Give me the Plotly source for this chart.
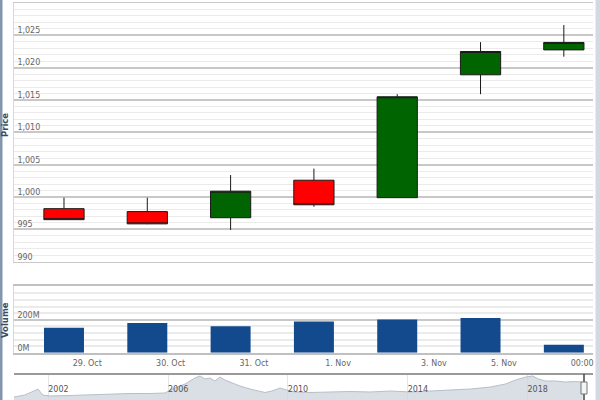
import plotly.graph_objects as go

# ---------------- data ----------------
sessions = ["S1", "S2", "S3", "S4", "S5", "S6", "S7"]
open_ = [998.2, 997.75, 996.8, 1002.6, 999.9, 1018.9, 1022.75]
high = [999.9, 999.9, 1003.4, 1004.4, 1015.9, 1023.95, 1026.6]
low = [996.5, 995.8, 994.9, 998.5, 999.85, 1015.9, 1021.7]
close = [996.5, 995.85, 1000.9, 998.8, 1015.5, 1022.5, 1023.9]
volume = [151, 180, 161, 190, 202, 210, 49]  # millions

x_tick_pos = [0.28, 1.28, 2.28, 3.29, 4.44, 5.28, 6.22]
x_tick_labels = ["29. Oct", "30. Oct", "31. Oct", "1. Nov", "3. Nov", "5. Nov", "00:00"]

nav_dates = ["2000-11-07", "2001-03-20", "2001-06-13", "2001-08-29", "2001-10-27",
             "2002-01-23", "2002-09-24", "2003-09-24", "2004-01-23", "2004-09-24",
             "2005-05-27", "2005-11-24", "2006-03-25", "2006-07-27", "2006-11-24",
             "2007-01-26", "2007-03-29", "2007-05-27", "2007-07-27", "2007-09-27",
             "2007-11-24", "2008-02-21", "2008-05-27", "2008-09-27", "2009-01-01",
             "2009-03-29", "2009-06-21", "2009-09-27", "2009-12-20", "2010-03-29",
             "2010-09-27", "2011-05-27", "2012-01-30", "2012-10-01", "2013-06-03",
             "2014-02-06", "2014-10-08", "2015-06-07", "2016-02-06", "2016-10-08",
             "2017-04-08", "2017-08-08", "2017-12-10", "2018-03-04", "2018-05-16",
             "2018-08-08", "2018-12-10", "2019-04-08", "2019-08-08", "2019-11-05"]
nav_values = [5, 7, 10, 13, 7,
              6, 6.5, 7.5, 8.5, 8.5,
              8.5, 9, 14, 18, 24,
              26, 23, 24, 21, 25,
              22, 19, 16, 13, 11,
              9.5, 11, 14, 12, 10,
              9.5, 10, 10.5, 10, 11,
              10, 11, 12, 13, 15,
              18, 22, 25, 26, 23,
              21, 21, 20, 20.5, 20]
nav_year_ticks = ["2002-01-01", "2006-01-01", "2010-01-01", "2014-01-01", "2018-01-01"]
nav_year_labels = ["2002", "2006", "2010", "2014", "2018"]

# ---------------- figure ----------------
W, H = 600, 400
xs = list(range(len(sessions)))
FONT = "DejaVu Sans"
x_dom = [14 / W, 593 / W]
x_rng = [-0.6, 6.35]

fig = go.Figure()

fig.add_trace(go.Candlestick(
    x=xs, open=open_, high=high, low=low, close=close,
    increasing=dict(fillcolor="#006400", line=dict(color="#1a1a1a", width=1)),
    decreasing=dict(fillcolor="#ff0000", line=dict(color="#1a1a1a", width=1)),
    whiskerwidth=0, showlegend=False, xaxis="x", yaxis="y",
))

fig.add_trace(go.Bar(
    x=xs, y=volume, marker=dict(color="#134a8e", line=dict(width=0)),
    showlegend=False, xaxis="x2", yaxis="y2",
))

fig.add_trace(go.Scatter(
    x=nav_dates, y=nav_values, mode="lines", fill="tozeroy",
    line=dict(color="#b7bfca", width=1), fillcolor="rgba(205,212,222,0.75)",
    showlegend=False, xaxis="x3", yaxis="y3",
))

tickfont = dict(family=FONT, size=8, color="#666666")

fig.update_layout(
    width=W, height=H,
    margin=dict(l=0, r=0, t=0, b=0),
    paper_bgcolor="white", plot_bgcolor="white",
    boxgap=0.31, bargap=0.52,
    xaxis=dict(domain=x_dom, range=x_rng, showticklabels=False, showgrid=False,
               zeroline=False, rangeslider=dict(visible=False),
               showline=True, mirror=True, linecolor="#c8c8c8", linewidth=1,
               anchor="y"),
    yaxis=dict(domain=[1 - 261.7 / H, 1 - 3 / H], range=[990, 1030],
               tickmode="array", tickvals=[990, 995, 1000, 1005, 1010, 1015, 1020, 1025, 1030],
               ticktext=["990", "995", "1,000", "1,005", "1,010", "1,015", "1,020", "1,025", ""],
               ticklabelposition="inside", ticklabelshift=-5, ticklabelstandoff=2,
               tickfont=tickfont, showgrid=True, gridcolor="#c8c8c8", gridwidth=1.5,
               minor=dict(dtick=1, showgrid=True, gridcolor="#ebebeb", gridwidth=1),
               zeroline=False, showline=True, linecolor="#d8d8d8", anchor="x"),
    xaxis2=dict(domain=x_dom, range=x_rng, tickmode="array", tickvals=x_tick_pos,
                ticktext=x_tick_labels, tickfont=tickfont, showgrid=False, zeroline=False,
                showline=True, mirror=True, linecolor="#c0c0c0", linewidth=1.5,
                ticks="", ticklabelstandoff=2, anchor="y2"),
    yaxis2=dict(domain=[1 - 352.7 / H, 1 - 286 / H], range=[0, 405],
                tickmode="array", tickvals=[0, 200, 400], ticktext=["0M", "200M", ""],
                ticklabelposition="inside", ticklabelshift=-5, ticklabelstandoff=2,
                tickfont=tickfont, showgrid=True, gridcolor="#c8c8c8", gridwidth=1.5,
                minor=dict(dtick=40, showgrid=True, gridcolor="#ebebeb"),
                zeroline=False, showline=True, linecolor="#d8d8d8", anchor="x2"),
    xaxis3=dict(domain=x_dom, type="date", range=["2000-11-10", "2020-03-10"],
                tickmode="array", tickvals=nav_year_ticks, ticktext=nav_year_labels,
                ticklabelposition="inside right", tickfont=dict(family=FONT, size=8, color="#555555"),
                showgrid=True, gridcolor="#e6e6e6", zeroline=False, showline=False,
                ticks="", anchor="y3"),
    yaxis3=dict(domain=[0, 1 - 374 / H], range=[2, 28], visible=False, anchor="x3"),
    annotations=[
        dict(text="<b>Price</b>", x=5 / W, y=1 - 125 / H, xref="paper", yref="paper",
             textangle=-90, showarrow=False, xanchor="center", yanchor="middle",
             font=dict(family=FONT, size=8.5, color="#3e4b5e")),
        dict(text="<b>Volume</b>", x=5 / W, y=1 - 320 / H, xref="paper", yref="paper",
             textangle=-90, showarrow=False, xanchor="center", yanchor="middle",
             font=dict(family=FONT, size=8.5, color="#3e4b5e")),
    ],
    shapes=[
        # navigator top outline
        dict(type="line", xref="paper", yref="paper", x0=14 / W, x1=593 / W,
             y0=1 - 374 / H, y1=1 - 374 / H, line=dict(color="#9a9a9a", width=2)),
        # navigator handle
        dict(type="line", xref="paper", yref="paper", x0=584 / W, x1=584 / W,
             y0=0, y1=1 - 374 / H, line=dict(color="#444444", width=1.5)),
        dict(type="rect", xref="paper", yref="paper", x0=581 / W, x1=587 / W,
             y0=1 - 394 / H, y1=1 - 382 / H, fillcolor="#f4f4f4",
             line=dict(color="#777777", width=1)),
        # outer frame strips
        dict(type="rect", xref="paper", yref="paper", x0=0, x1=2.5 / W, y0=0, y1=1,
             fillcolor="#8396ad", line=dict(width=0), layer="above"),
        dict(type="rect", xref="paper", yref="paper", x0=595.5 / W, x1=1, y0=0, y1=1,
             fillcolor="#d3d9e2", line=dict(width=0), layer="above"),
    ],
)

fig.write_html("out.html")
